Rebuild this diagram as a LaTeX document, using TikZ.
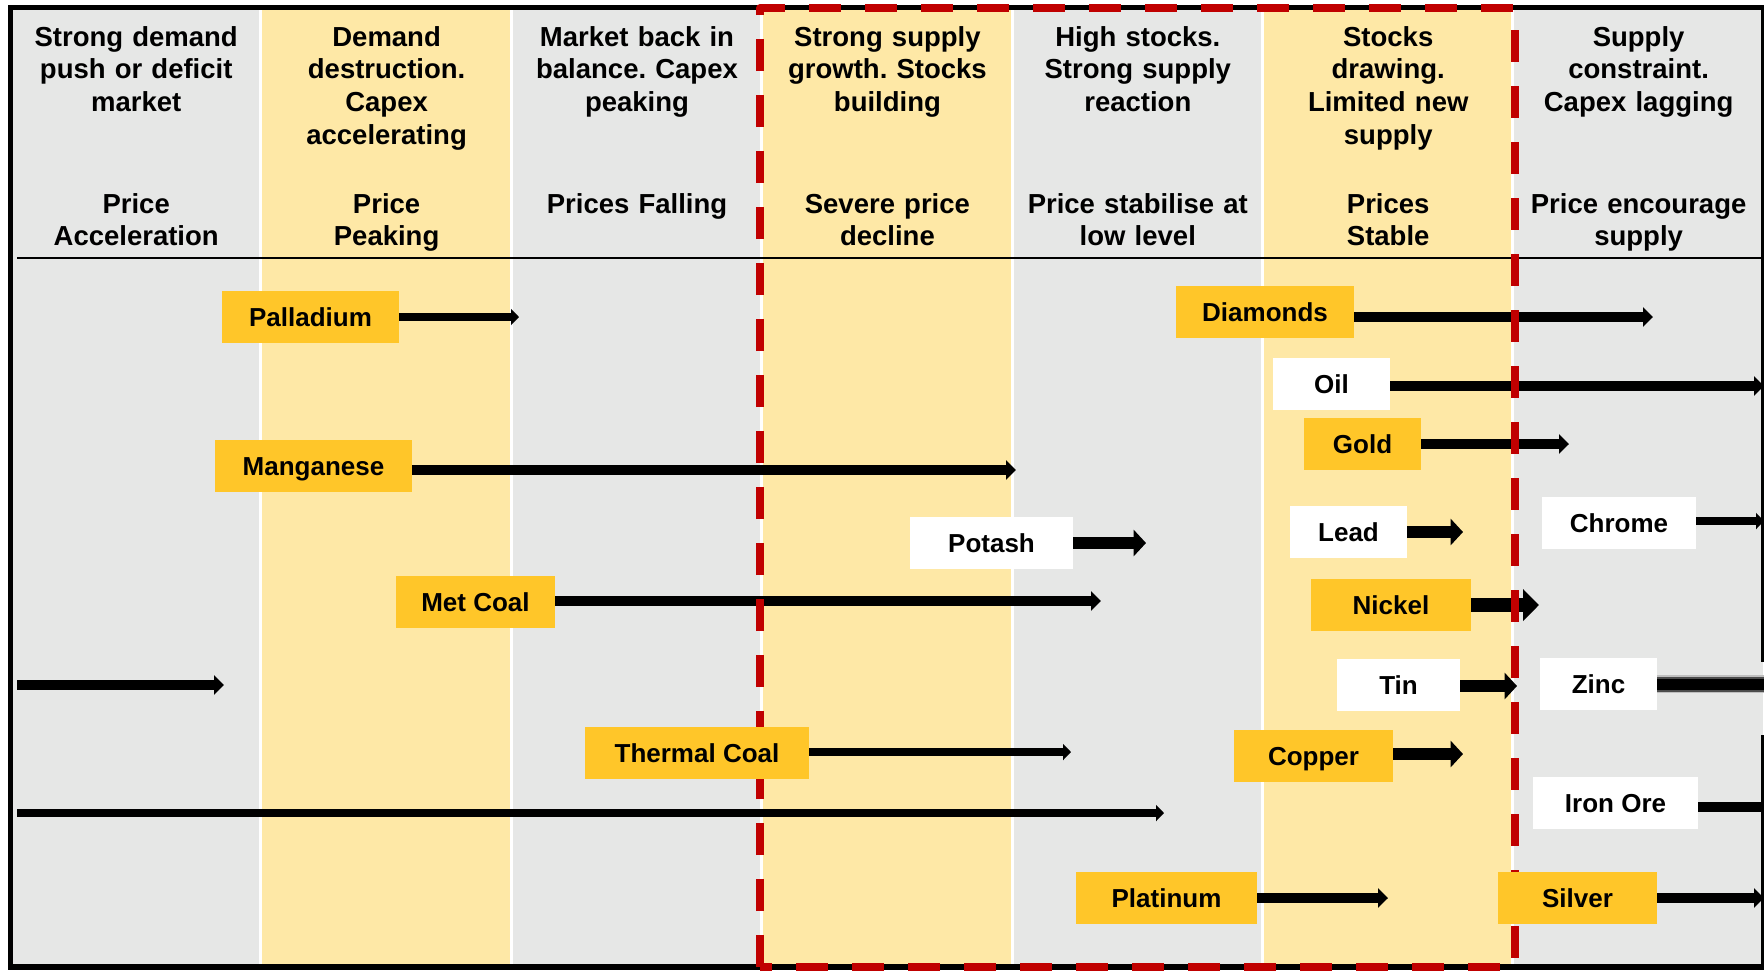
\documentclass[tikz,border=0pt]{standalone}
\usepackage{fontspec}
\setmainfont{Liberation Sans}
\usetikzlibrary{arrows.meta}
\definecolor{colgray}{HTML}{E6E7E6}
\definecolor{colyel}{HTML}{FEE8A6}
\definecolor{labyel}{HTML}{FFC629}
\definecolor{dred}{HTML}{C00000}
\pgfdeclarelayer{bg}
\pgfdeclarelayer{arrowlayer}
\pgfdeclarelayer{redlayer}
\pgfsetlayers{bg,arrowlayer,redlayer,main}
\frenchspacing
\tikzset{
  hdr/.style={anchor=base, text width=120pt, align=center, inner sep=0pt,
    font=\fontsize{13.75}{16.4}\selectfont\bfseries},
  lab/.style={font=\fontsize{13}{15.6}\selectfont\bfseries, text height=9.3pt,
    text depth=0pt, minimum height=26pt, inner sep=0pt, align=center},
  ylab/.style={lab, fill=labyel},
  wlab/.style={lab, fill=white},
  arrA/.style={line width=3.6pt, -{Triangle[length=4pt, width=8pt]}},
  arrB/.style={line width=4.6pt, -{Triangle[length=5pt, width=9.5pt]}},
  arrC/.style={line width=6.2pt, -{Triangle[length=6.2pt, width=13pt]}},
  arrD/.style={line width=7.2pt, -{Triangle[length=8pt, width=15.5pt]}},
  framel/.style={line width=2.75pt, line cap=rect},
}
\begin{document}
\begin{tikzpicture}[x=0.5pt, y=-0.5pt]
\useasboundingbox (0,0) rectangle (1764,970);

% ---------- background columns ----------
\begin{pgfonlayer}{bg}
\foreach \i/\c in {0/colgray,1/colyel,2/colgray,3/colyel,4/colgray,5/colyel,6/colgray}
  \fill[\c] ({10.5+250.4*\i},7.5) rectangle ({10.5+250.4*(\i+1)},967);
\foreach \i in {1,...,6}
  \draw[white, line width=1.5pt] ({10.5+250.4*\i},7.5) -- ({10.5+250.4*\i},967);
\draw[line width=1.4pt] (17,258) -- (1764,258);
\end{pgfonlayer}

% ---------- header texts ----------
\node[hdr] (h1) at (136.2,46) {Strong demand\\push or deficit\\market};
\node[hdr] (h2) at (386.6,46) {Demand\\destruction.\\Capex\\accelerating};
\node[hdr] (h3) at (637.0,46) {Market back in\\balance. Capex\\peaking};
\node[hdr] (h4) at (887.4,46) {Strong supply\\growth. Stocks\\building};
\node[hdr] (h5) at (1137.8,46) {High stocks.\\Strong supply\\reaction};
\node[hdr] (h6) at (1388.2,46) {Stocks\\drawing.\\Limited new\\supply};
\node[hdr] (h7) at (1638.6,46) {Supply\\constraint.\\Capex lagging};

\node[hdr] (p1) at (136.2,213) {Price\\Acceleration};
\node[hdr] (p2) at (386.6,213) {Price\\Peaking};
\node[hdr] (p3) at (637.0,213) {Prices Falling};
\node[hdr] (p4) at (887.4,213) {Severe price\\decline};
\node[hdr] (p5) at (1137.8,213) {Price stabilise at\\low level};
\node[hdr] (p6) at (1388.2,213) {Prices\\Stable};
\node[hdr] (p7) at (1638.6,213) {Price encourage\\supply};

% ---------- labels ----------
\node[ylab, minimum width=88.5pt] (pall) at (310.5,317) {Palladium};
\node[ylab, minimum width=98.5pt] (mang) at (313.5,466) {Manganese};
\node[ylab, minimum width=79.5pt] (metc) at (475.5,602) {Met Coal};
\node[wlab, minimum width=81.5pt] (pota) at (991.5,543) {Potash};
\node[ylab, minimum width=112pt]  (ther) at (697,753) {Thermal Coal};
\node[ylab, minimum width=90.5pt] (plat) at (1166.5,898) {Platinum};
\node[ylab, minimum width=79.5pt] (silv) at (1577.5,898) {Silver};
\node[wlab, minimum width=82.5pt] (iron) at (1615.5,803) {Iron Ore};
\node[ylab, minimum width=79.5pt] (copp) at (1313.5,756) {Copper};
\node[wlab, minimum width=61.5pt] (tin)  at (1398.5,685) {Tin};
\node[wlab, minimum width=58.5pt] (zinc) at (1598.5,684) {Zinc};
\node[ylab, minimum width=80pt]   (nick) at (1391,605) {Nickel};
\node[wlab, minimum width=58.5pt] (lead) at (1348.5,532) {Lead};
\node[wlab, minimum width=77pt]   (chro) at (1619,523) {Chrome};
\node[ylab, minimum width=58.5pt] (gold) at (1362.5,444) {Gold};
\node[wlab, minimum width=58.5pt] (oil)  at (1331.5,384) {Oil};
\node[ylab, minimum width=89pt]   (diam) at (1265,312) {Diamonds};

% ---------- arrow end points ----------
\coordinate (ePall) at (519,317);
\coordinate (eMang) at (1016,470);
\coordinate (eMetc) at (1101,601);
\coordinate (ePota) at (1146,543);
\coordinate (eTher) at (1071,752);
\coordinate (ePlat) at (1388,898);
\coordinate (eSilv) at (1764,898);
\coordinate (eIron) at (1761,807);
\coordinate (eCopp) at (1463,754);
\coordinate (eTin)  at (1517,686);
\coordinate (eZinc) at (1764,684);
\coordinate (eNick) at (1539,605);
\coordinate (eLead) at (1463,532);
\coordinate (eChro) at (1764,521);
\coordinate (eGold) at (1569,444);
\coordinate (eOil)  at (1764,386);
\coordinate (eDiam) at (1653,317);
\coordinate (sU1) at (17,685);
\coordinate (eU1) at (224,685);
\coordinate (sU2) at (17,813);
\coordinate (eU2) at (1164,813);

% ---------- arrows ----------
\begin{pgfonlayer}{arrowlayer}
\draw[arrA] (pall.east |- ePall) -- (ePall);
\draw[arrB] (mang.east |- eMang) -- (eMang);
\draw[arrB] (metc.east |- eMetc) -- (eMetc);
\draw[arrC] (pota.east |- ePota) -- (ePota);
\draw[arrA] (ther.east |- eTher) -- (eTher);
\draw[arrB] (plat.east |- ePlat) -- (ePlat);
\draw[arrB] (silv.east |- eSilv) -- (eSilv);
\draw[line width=5.2pt] (iron.east |- eIron) -- (eIron);
\draw[arrC] (copp.east |- eCopp) -- (eCopp);
\draw[arrC] (tin.east |- eTin) -- (eTin);
\draw[black!25, line width=9pt] (zinc.east |- eZinc) -- (eZinc);
\draw[black!70, line width=7.5pt] (zinc.east |- eZinc) -- (eZinc);
\draw[line width=5.5pt] (zinc.east |- eZinc) -- (eZinc);
\draw[arrD] (nick.east |- eNick) -- (eNick);
\draw[arrC] (lead.east |- eLead) -- (eLead);
\draw[arrA] (chro.east |- eChro) -- (eChro);
\draw[arrB] (gold.east |- eGold) -- (eGold);
\draw[arrB] (oil.east |- eOil) -- (eOil);
\draw[arrB] (diam.east |- eDiam) -- (eDiam);
\draw[arrB] (sU1) -- (eU1);
\draw[arrA] (sU2) -- (eU2);
% frame
\draw[framel] (1764,7.5) -- (10.5,7.5) -- (10.5,967) -- (1764,967);
\draw[line width=2.75pt] (1764,7.5) -- (1764,662);
\draw[line width=2.75pt] (1764,735) -- (1764,967);
\end{pgfonlayer}

% ---------- red dashed frame ----------
\begin{pgfonlayer}{redlayer}
\draw[dred, line width=3.75pt, dash pattern=on 16pt off 12pt, line join=round]
  (760,967) -- (760,8) -- (1515,8) -- (1515,967) -- cycle;
\end{pgfonlayer}
\end{tikzpicture}
\end{document}
